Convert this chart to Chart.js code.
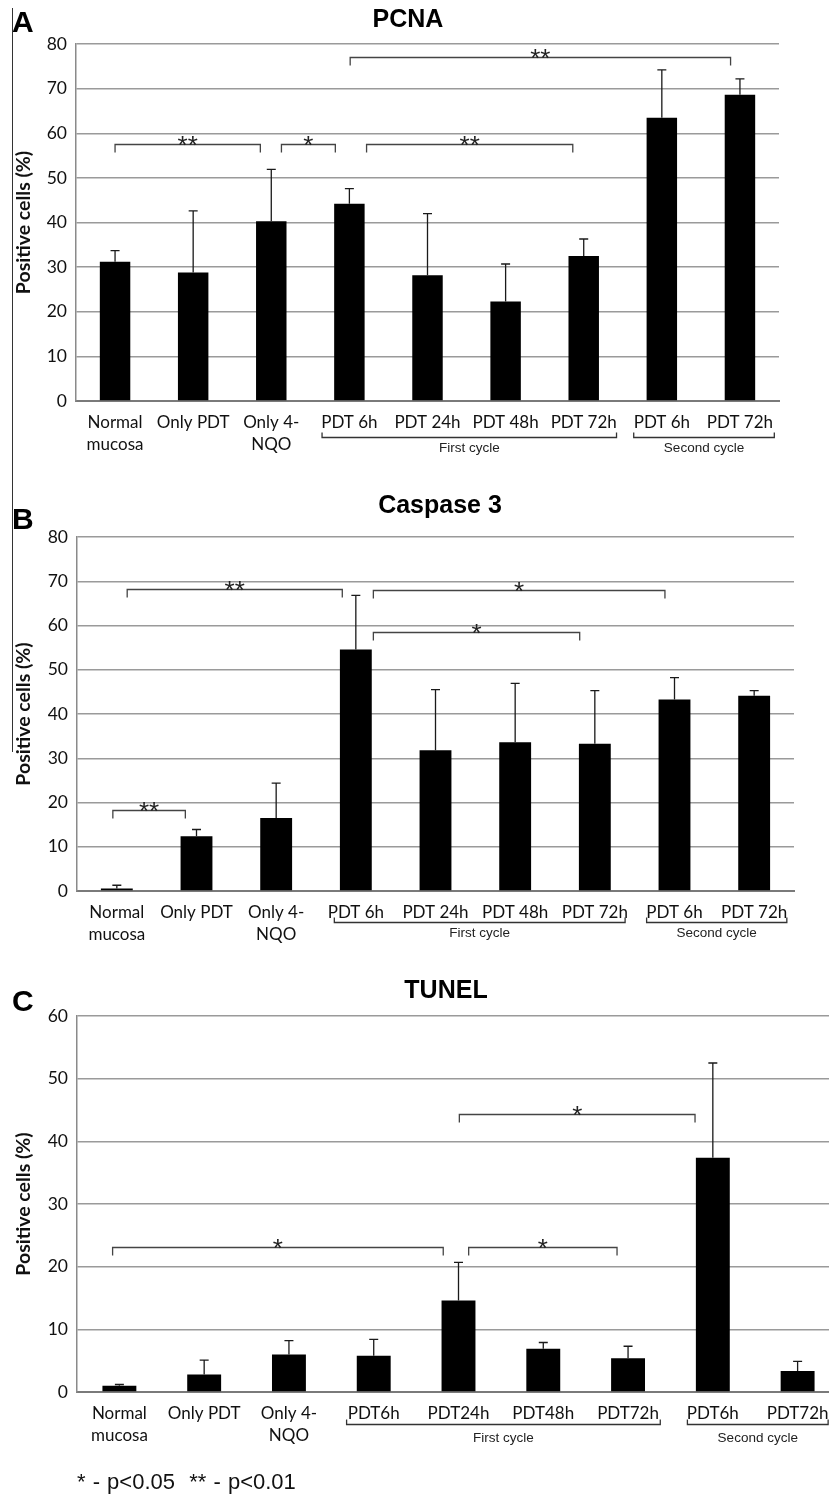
<!DOCTYPE html>
<html>
<head>
<meta charset="utf-8">
<script src="https://cdn.jsdelivr.net/npm/chart.js@4.4.1/dist/chart.umd.min.js"></script>
<style>
  body { margin: 0; background: #fff; }
  #wrap { position: relative; width: 829px; height: 1497px; overflow: hidden; background: #fff; }
  canvas { position: absolute; left: 0; }
  #frame { position: absolute; left: 12px; top: 8px; width: 1px; height: 744px; background: #333; }
  #note { position: absolute; left: 77px; top: 1469px; font: 22px "Liberation Sans", Arial, sans-serif; word-spacing: 1px; color: #111; white-space: pre; }
</style>
</head>
<body>
<div id="wrap">
  <canvas id="pcna" width="829" height="465" style="top:0px"></canvas>
  <canvas id="casp" width="829" height="485" style="top:465px"></canvas>
  <canvas id="tunel" width="840" height="547" style="top:950px"></canvas>
  <div id="frame"></div>
  <div id="note">* - p&lt;0.05  ** - p&lt;0.01</div>
</div>
<script>
// categories
const labelsAB = [["Normal", "mucosa"], "Only PDT", ["Only 4-", "NQO"], "PDT 6h", "PDT 24h", "PDT 48h", "PDT 72h", "PDT 6h", "PDT 72h"];
const labelsC = [["Normal", "mucosa"], "Only PDT", ["Only 4-", "NQO"], "PDT6h", "PDT24h", "PDT48h", "PDT72h", "PDT6h", "PDT72h"];
const cycleNames = ["First cycle", "Second cycle"];

// A - PCNA
const pcnaMean = [31.2, 28.8, 40.3, 44.2, 28.2, 22.3, 32.5, 63.5, 68.6];
const pcnaSd = [2.5, 13.8, 11.6, 3.4, 13.8, 8.4, 3.8, 10.7, 3.6];
const pcnaSigFrom = [0, 2.13, 3.22, 3.01];
const pcnaSigTo = [1.86, 2.82, 5.86, 7.88];
const pcnaSigAt = [57.7, 57.7, 57.7, 77.1];
const pcnaSigMark = ["**", "*", "**", "**"];
const pcnaCycleFrom = [2.65, 6.64];
const pcnaCycleTo = [6.42, 8.44];

// B - Caspase 3
const caspMean = [0.55, 12.4, 16.5, 54.6, 31.8, 33.6, 33.3, 43.3, 44.1];
const caspSd = [0.75, 1.5, 7.9, 12.2, 13.7, 13.3, 12.0, 4.9, 1.2];
const caspSigFrom = [0.13, 3.22, 3.22, -0.05];
const caspSigTo = [2.83, 6.88, 5.81, 0.86];
const caspSigAt = [68.3, 68.1, 58.6, 18.4];
const caspSigMark = ["**", "*", "*", "**"];
const caspCycleFrom = [2.73, 6.65];
const caspCycleTo = [6.38, 8.41];

// C - TUNEL
const tunelMean = [1.0, 2.8, 6.0, 5.8, 14.6, 6.9, 5.4, 37.4, 3.35];
const tunelSd = [0.2, 2.3, 2.2, 2.6, 6.1, 1.0, 1.9, 15.1, 1.55];
const tunelSigFrom = [-0.08, 4.12, 4.01];
const tunelSigTo = [3.82, 5.87, 6.79];
const tunelSigAt = [23.2, 23.2, 44.3];
const tunelSigMark = ["*", "*", "*"];
const tunelCycleFrom = [2.68, 6.70];
const tunelCycleTo = [6.38, 8.36];

function makeChart(id, p) {
  const canvas = document.getElementById(id);
  const W = canvas.width, H = canvas.height;

  const decor = {
    id: "decor",
    afterDraw(chart) {
      const { ctx, chartArea: area, scales: { x, y } } = chart;
      ctx.save();

      // error bars (upper only)
      ctx.strokeStyle = "#1a1a1a";
      ctx.lineWidth = 1.3;
      p.mean.forEach((m, i) => {
        const cx = x.getPixelForValue(i);
        const base = y.getPixelForValue(m);
        const top = y.getPixelForValue(m + p.sd[i]);
        ctx.beginPath();
        ctx.moveTo(cx, base);
        ctx.lineTo(cx, top);
        ctx.moveTo(cx - 4.5, top);
        ctx.lineTo(cx + 4.5, top);
        ctx.stroke();
      });

      // significance brackets
      ctx.strokeStyle = "#444";
      ctx.fillStyle = "#222";
      ctx.font = "26px 'Liberation Sans', Arial";
      ctx.textAlign = "center";
      ctx.textBaseline = "alphabetic";
      p.sigFrom.forEach((f, i) => {
        const x0 = x.getPixelForValue(f);
        const x1 = x.getPixelForValue(p.sigTo[i]);
        const yy = Math.round(y.getPixelForValue(p.sigAt[i])) + 0.5;
        ctx.beginPath();
        ctx.moveTo(x0, yy + 8);
        ctx.lineTo(x0, yy);
        ctx.lineTo(x1, yy);
        ctx.lineTo(x1, yy + 8);
        ctx.stroke();
        ctx.fillText(p.sigMark[i], (x0 + x1) / 2, yy + 9);
      });

      // cycle brackets under the axis
      ctx.strokeStyle = "#333";
      ctx.font = "13.5px 'Liberation Sans', Arial";
      ctx.textBaseline = "middle";
      const ly = Math.round(area.bottom + p.cycleDrop) + 0.5;
      p.cycleFrom.forEach((f, i) => {
        const x0 = x.getPixelForValue(f);
        const x1 = x.getPixelForValue(p.cycleTo[i]);
        ctx.beginPath();
        ctx.moveTo(x0, ly - 5);
        ctx.lineTo(x0, ly);
        ctx.lineTo(x1, ly);
        ctx.lineTo(x1, ly - 5);
        ctx.stroke();
        ctx.fillText(cycleNames[i], (x0 + x1) / 2, ly + p.cycleText);
      });

      // title and panel letter
      ctx.fillStyle = "#000";
      ctx.textBaseline = "alphabetic";
      ctx.font = "bold 25px 'Liberation Sans', Arial";
      ctx.fillText(p.title, p.titleX, p.titleY);
      ctx.textAlign = "left";
      ctx.font = "bold 30px 'Liberation Sans', Arial";
      ctx.fillText(p.letter, 12, p.letterY);
      ctx.restore();
    }
  };

  return new Chart(canvas, {
    type: "bar",
    data: {
      labels: p.labels,
      datasets: [{
        data: p.mean,
        backgroundColor: "#000",
        borderWidth: 0,
        barPercentage: p.barWidth,
        categoryPercentage: 1
      }]
    },
    options: {
      responsive: false,
      animation: false,
      layout: { padding: { top: p.box.top, left: 12, right: W - p.box.right, bottom: 0 } },
      plugins: { legend: { display: false }, tooltip: { enabled: false } },
      scales: {
        x: {
          afterFit: s => { s.height = H - p.box.bottom; },
          grid: { display: false },
          border: { display: true, color: "#7a7a7a", width: 2 },
          ticks: {
            color: "#111",
            padding: 2,
            maxRotation: 0,
            autoSkip: false,
            font: { family: "Lato", size: 17, lineHeight: 1.3 }
          }
        },
        y: {
          min: 0,
          max: p.yMax,
          afterFit: s => { s.width = p.box.left - 12; },
          grid: { color: "#9a9a9a", lineWidth: 1.5, drawTicks: false },
          border: { display: true, color: "#8a8a8a", width: 1.5 },
          ticks: {
            stepSize: 10,
            color: "#111",
            padding: 9,
            font: { family: "Lato", size: 17.5 }
          },
          title: {
            display: true,
            text: "Positive cells (%)",
            color: "#111",
            padding: 0,
            font: { family: "Lato", size: 19.5, weight: "bold" }
          }
        }
      }
    },
    plugins: [decor]
  });
}

makeChart("pcna", {
  labels: labelsAB, mean: pcnaMean, sd: pcnaSd,
  sigFrom: pcnaSigFrom, sigTo: pcnaSigTo, sigAt: pcnaSigAt, sigMark: pcnaSigMark,
  cycleFrom: pcnaCycleFrom, cycleTo: pcnaCycleTo, cycleDrop: 36, cycleText: 11,
  yMax: 80, barWidth: 0.39,
  box: { top: 44, bottom: 401, left: 76, right: 779 },
  title: "PCNA", titleX: 408, titleY: 27, letter: "A", letterY: 32
});

makeChart("casp", {
  labels: labelsAB, mean: caspMean, sd: caspSd,
  sigFrom: caspSigFrom, sigTo: caspSigTo, sigAt: caspSigAt, sigMark: caspSigMark,
  cycleFrom: caspCycleFrom, cycleTo: caspCycleTo, cycleDrop: 31, cycleText: 11,
  yMax: 80, barWidth: 0.40,
  box: { top: 72, bottom: 426, left: 77, right: 794 },
  title: "Caspase 3", titleX: 440, titleY: 48, letter: "B", letterY: 64
});

makeChart("tunel", {
  labels: labelsC, mean: tunelMean, sd: tunelSd,
  sigFrom: tunelSigFrom, sigTo: tunelSigTo, sigAt: tunelSigAt, sigMark: tunelSigMark,
  cycleFrom: tunelCycleFrom, cycleTo: tunelCycleTo, cycleDrop: 32, cycleText: 14,
  yMax: 60, barWidth: 0.40,
  box: { top: 66, bottom: 442, left: 77, right: 840 },
  title: "TUNEL", titleX: 446, titleY: 48, letter: "C", letterY: 61
});
</script>
</body>
</html>
